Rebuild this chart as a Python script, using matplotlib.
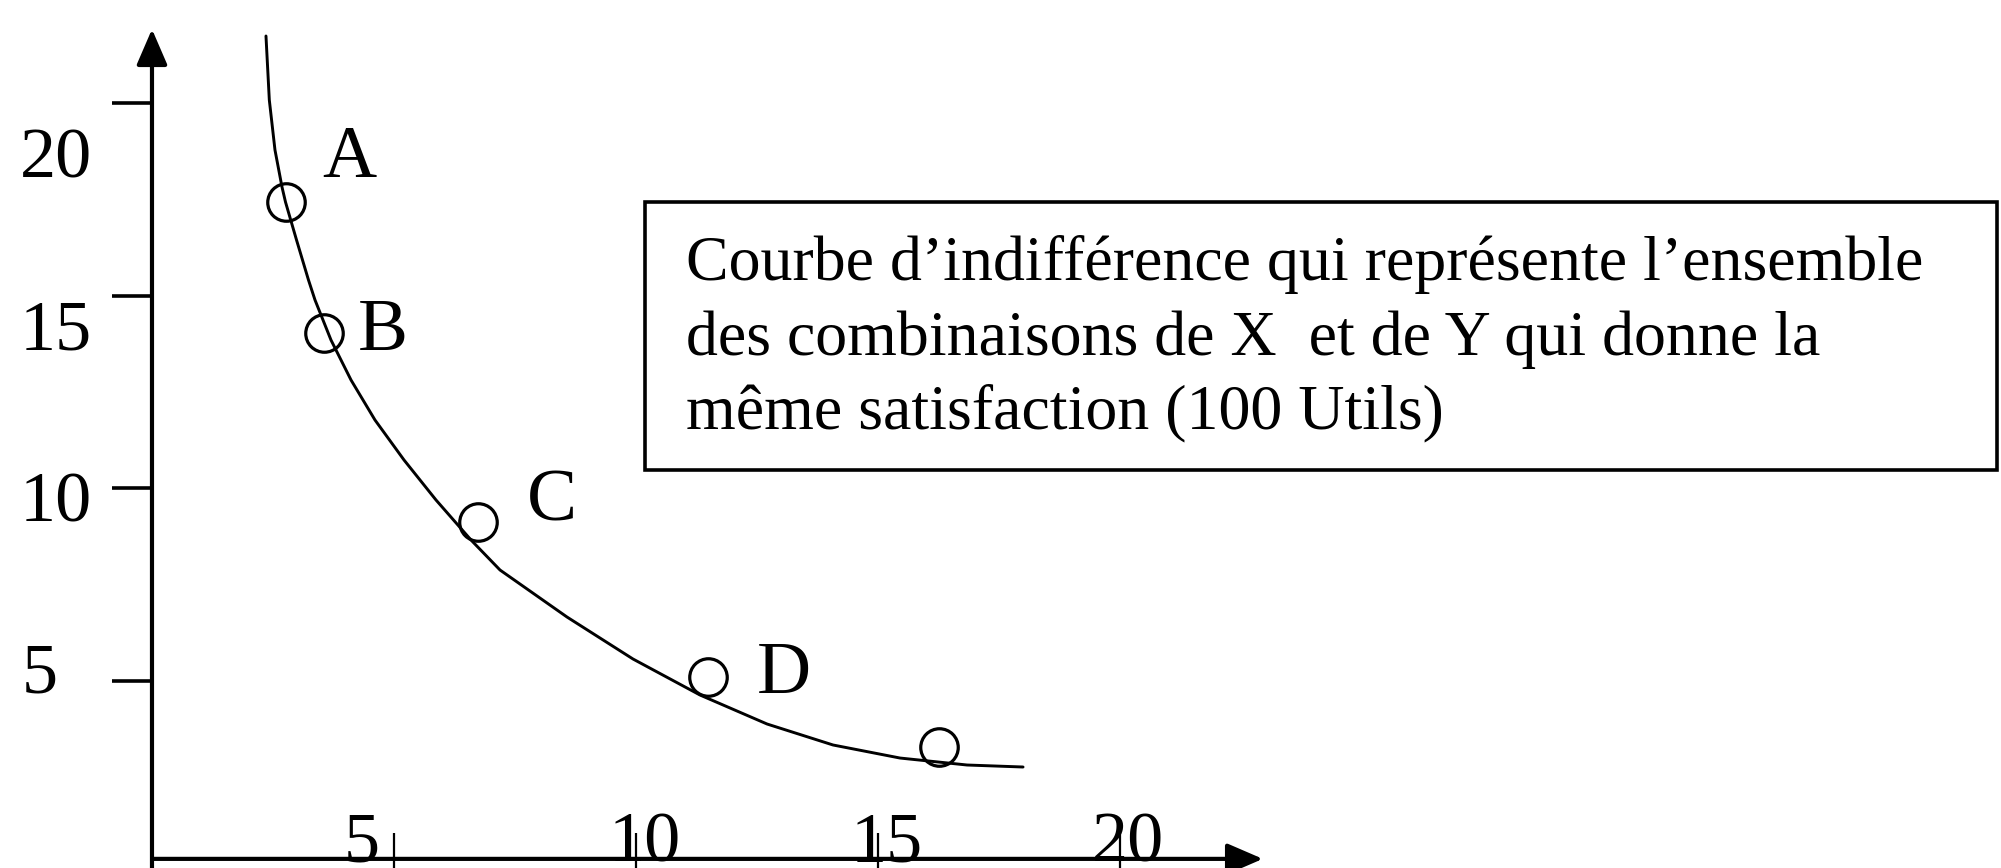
import matplotlib.pyplot as plt
from matplotlib.patches import Rectangle

plt.rcParams['font.family'] = ['Liberation Serif', 'DejaVu Serif']

# combinaisons (X, Y) marquées sur la courbe
point_names = ['A', 'B', 'C', 'D', '']
point_x = [2.77, 3.55, 6.74, 11.49, 16.26]
point_y = [17.44, 14.04, 9.13, 5.10, 3.29]

# tracé de la courbe d'indifférence
curve_x = [2.355, 2.424, 2.541, 2.686, 2.758, 2.986, 3.233, 3.368, 3.698, 4.112,
           4.607, 5.207, 5.868, 6.591, 7.190, 8.574, 9.938, 11.322, 12.707,
           14.070, 15.455, 16.839, 17.996]
curve_y = [21.753, 20.091, 18.792, 17.831, 17.442, 16.455, 15.416, 14.896, 13.857,
           12.818, 11.779, 10.740, 9.701, 8.662, 7.883, 6.662, 5.571, 4.636, 3.883,
           3.338, 2.999, 2.818, 2.766]

x_ticks = [5, 10, 15, 20]
y_ticks = [20, 15, 10, 5]

box_lines = [
    'Courbe d\u2019indifférence qui représente l\u2019ensemble',
    'des combinaisons de X  et de Y qui donne la',
    'même satisfaction (100 Utils)',
]

W, H = 2001, 868
fig = plt.figure(figsize=(W / 100, H / 100), dpi=100)
ax = fig.add_axes([0, 0, 1, 1])
ax.set_xlim(-3.14, 38.20)
ax.set_ylim(0.143, 22.688)
ax.axis('off')

# axes dessinés à la main avec flèches
axis_y0 = 0.38
arrow = dict(arrowstyle='-|>,head_length=2.2,head_width=0.95', mutation_scale=10,
             color='black', lw=3.0, shrinkA=0, shrinkB=0)
ax.annotate('', xy=(0, 21.93), xytext=(0, 0.0), arrowprops=arrow)
ax.annotate('', xy=(22.95, axis_y0), xytext=(0, axis_y0), arrowprops=arrow)

# graduations
for v in y_ticks:
    ax.plot([-0.83, 0], [v, v], color='black', lw=2.6, solid_capstyle='butt')
for v in x_ticks:
    ax.plot([v, v], [0.0, 1.05], color='black', lw=1.6, solid_capstyle='butt')

ylab_x = [-1.24, -1.24, -1.24, -1.94]
ylab_base = [18.09, 13.60, 9.13, 4.69]
for v, lx, ly in zip(y_ticks, ylab_x, ylab_base):
    ax.text(lx, ly, str(v), ha='right', va='baseline', fontsize=52)

xlab_x = [4.34, 10.19, 15.19, 20.17]
for v, lx in zip(x_ticks, xlab_x):
    ax.text(lx, 0.30, str(v), ha='center', va='baseline', fontsize=52)

# courbe et points
ax.plot(curve_x, curve_y, color='black', lw=2.1, solid_joinstyle='round',
        solid_capstyle='round')
ax.plot(point_x, point_y, 'o', ms=27, mfc='none', mec='black', mew=2.3)

label_offsets = [(36, 25), (34, -17), (49, 1), (49, -16), (0, 0)]
for name, px, py, off in zip(point_names, point_x, point_y, label_offsets):
    if name:
        ax.annotate(name, (px, py), xytext=off, textcoords='offset pixels',
                    ha='left', va='baseline', fontsize=54)

# encadré explicatif
fig.patches.append(Rectangle((645 / W, 1 - 470 / H), (1997 - 645) / W, (470 - 202) / H,
                             transform=fig.transFigure, fill=False, lw=2.6,
                             edgecolor='black'))
for line, base in zip(box_lines, [280, 355, 428]):
    fig.text(686 / W, 1 - base / H, line, ha='left', va='baseline', fontsize=46)

fig.savefig('out.png', dpi=100, facecolor='white')
